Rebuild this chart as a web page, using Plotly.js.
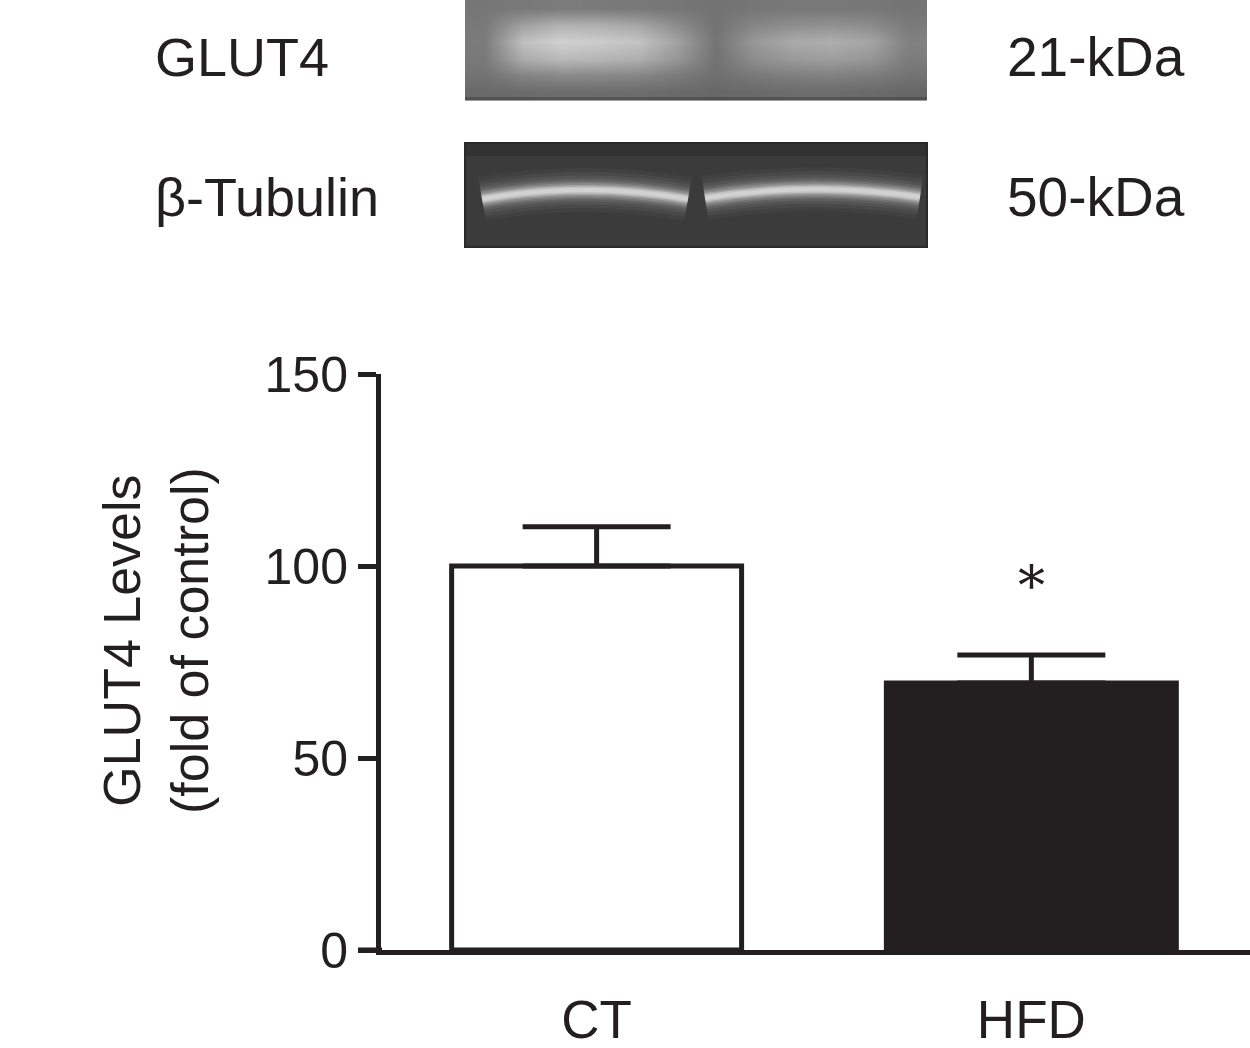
<!DOCTYPE html>
<html>
<head>
<meta charset="utf-8">
<script src="https://cdn.plot.ly/plotly-3.0.1.min.js"></script>
<style>html,body{margin:0;padding:0;background:#fff;}#chart{width:1250px;height:1048px;}</style>
</head>
<body>
<div id="chart"></div>
<script>
// ---- data ----
const groups = ['CT', 'HFD'];
const glut4Levels = [100, 69.5];
const glut4SEM = [10.2, 7.3];
const significance = ['', '*'];
const blotProteins = ['GLUT4', 'β-Tubulin'];
const blotSizes = ['21-kDa', '50-kDa'];
const yTicks = [0, 50, 100, 150];
// GLUT4 blot grey levels (rows top->bottom, columns left->right across both lanes)
const glut4Blot = [
  [118, 121, 123, 122, 120, 118, 114, 118, 120, 120, 119, 116],
  [121, 160, 178, 175, 166, 140, 114, 134, 142, 145, 140, 122],
  [123, 192, 208, 203, 195, 162, 116, 152, 170, 174, 165, 129],
  [121, 172, 186, 182, 175, 150, 114, 141, 154, 158, 150, 124],
  [115, 132, 138, 137, 134, 123, 111, 121, 127, 129, 125, 115],
  [105, 107, 109, 108, 108, 106, 103, 106, 108, 108, 106, 103]
];

// ---- layout helpers (pixel -> paper) ----
const W = 1250, PH = 950; // plot area spans full width, 0..950 px vertically
const px = x => x / W;
const py = y => (PH - y) / PH;
const INK = '#231f20';
const FONT = 'Arial, "Liberation Sans", Helvetica, sans-serif';
const LW = 5;

const shapes = [];
// GLUT4 blot bottom edge
shapes.push({type:'rect', xref:'paper', yref:'paper', x0:px(465), x1:px(927), y0:py(101), y1:py(97), fillcolor:'rgba(60,60,60,0.5)', line:{width:0}});
// beta-Tubulin blot
shapes.push({type:'rect', xref:'paper', yref:'paper', x0:px(465), x1:px(927), y0:py(247), y1:py(143), fillcolor:'#3b3b3b', line:{color:'#2a2a2a', width:2}, layer:'below'});
shapes.push({type:'rect', xref:'paper', yref:'paper', x0:px(466), x1:px(926), y0:py(156), y1:py(144), fillcolor:'rgba(0,0,0,0.15)', line:{width:0}, layer:'below'});
const tubLanes = [
  [482, 199, 585, 181, 688, 199],
  [705, 198, 812, 181, 920, 197]
];
const glow = [[44,'rgba(255,255,255,0.03)'],[36,'rgba(255,255,255,0.045)'],[29,'rgba(255,255,255,0.06)'],[23,'rgba(255,255,255,0.08)'],[18,'rgba(255,255,255,0.12)'],[14,'rgba(255,255,255,0.17)'],[10,'rgba(255,255,255,0.24)'],[7,'rgba(255,255,255,0.3)'],[4,'rgba(230,230,230,0.45)']];
tubLanes.forEach(c => {
  const path = 'M ' + px(c[0]) + ',' + py(c[1]) + ' Q ' + px(c[2]) + ',' + py(c[3]) + ' ' + px(c[4]) + ',' + py(c[5]);
  glow.forEach(g => shapes.push({type:'path', xref:'paper', yref:'paper', path:path, line:{color:g[1], width:g[0]}, layer:'below'}));
});
// x-axis line extending left of the y-axis (GraphPad style)
shapes.push({type:'line', xref:'paper', yref:'y', x0:px(358), x1:px(382), y0:0, y1:0, line:{color:INK, width:LW}});

const annotations = [];
const labelY = [57, 197];
blotProteins.forEach((t, i) => annotations.push({text:t, xref:'paper', yref:'paper', x:px(153), y:py(labelY[i]), xanchor:'left', yanchor:'middle', showarrow:false, font:{family:FONT, size:54, color:INK}}));
blotSizes.forEach((t, i) => annotations.push({text:t, xref:'paper', yref:'paper', x:px(1187), y:py(labelY[i]), xanchor:'right', yanchor:'middle', showarrow:false, font:{family:FONT, size:55, color:INK}}));
// y axis title
annotations.push({text:'GLUT4 Levels<br>(fold of control)', xref:'paper', yref:'paper', x:px(156), y:py(641), xanchor:'center', yanchor:'middle', textangle:-90, showarrow:false, font:{family:FONT, size:52, color:INK}});
// significance markers
groups.forEach((g, i) => {
  if (significance[i]) annotations.push({text:significance[i], x:g, y:glut4Levels[i] + glut4SEM[i] + 17.8, xref:'x', yref:'y', showarrow:false, yanchor:'middle', font:{family:'"DejaVu Serif", "Liberation Serif", serif', size:54, color:INK}});
});

const bars = {
  type:'bar', x:groups, y:glut4Levels, width:[0.667, 0.667],
  marker:{color:['#ffffff', INK], line:{color:INK, width:LW}},
  error_y:{type:'data', array:glut4SEM, arrayminus:[0,0], symmetric:false, color:INK, thickness:LW, width:74},
  hoverinfo:'x+y'
};
const blot = {
  type:'heatmap', z:glut4Blot, xaxis:'x2', yaxis:'y2', zsmooth:'best', showscale:false,
  zmin:0, zmax:255, colorscale:[[0,'rgb(0,0,0)'],[1,'rgb(255,255,255)']], hoverinfo:'skip'
};

const layout = {
  width:1250, height:1048,
  margin:{l:0, r:0, t:0, b:98},
  paper_bgcolor:'#fff', plot_bgcolor:'rgba(0,0,0,0)',
  showlegend:false,
  xaxis:{domain:[px(381), 1], type:'category', categoryorder:'array', categoryarray:groups, range:[-0.496, 1.503],
    showline:true, linecolor:INK, linewidth:LW, ticks:'', showgrid:false, zeroline:false,
    tickfont:{family:FONT, size:53, color:INK}, ticklabelstandoff:19, fixedrange:true},
  yaxis:{domain:[0, py(374)], range:[0, 150], tickvals:yTicks, ticktext:yTicks.map(String),
    showline:true, linecolor:INK, linewidth:LW, ticks:'outside', ticklen:18, tickwidth:LW, tickcolor:INK,
    showgrid:false, zeroline:false, tickfont:{family:FONT, size:50, color:INK}, ticklabelstandoff:0, fixedrange:true},
  xaxis2:{domain:[px(465), px(927)], anchor:'y2', range:[-0.5, 11.5], visible:false, fixedrange:true},
  yaxis2:{domain:[py(100), 1], anchor:'x2', range:[5.5, -0.5], visible:false, fixedrange:true},
  shapes:shapes, annotations:annotations
};

Plotly.newPlot('chart', [blot, bars], layout, {displayModeBar:false, staticPlot:true});
</script>
</body>
</html>
